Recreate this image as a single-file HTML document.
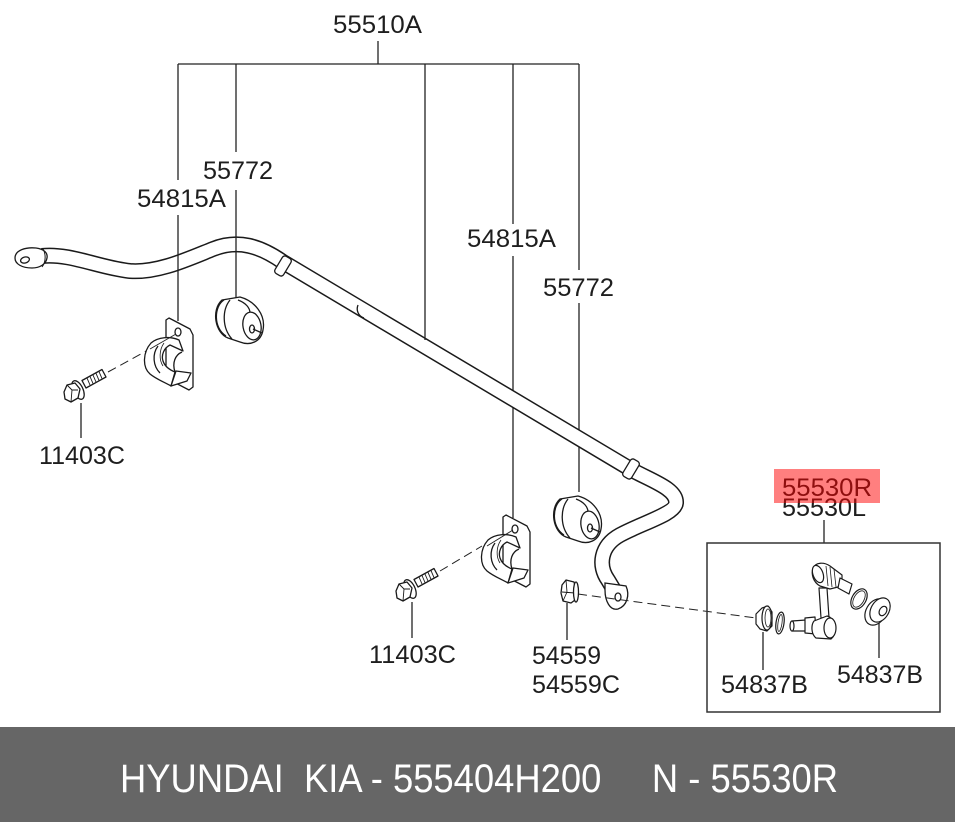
<!DOCTYPE html>
<html><head><meta charset="utf-8"><style>
html,body{margin:0;padding:0;background:#fff;}
svg{display:block;}
text{font-family:"Liberation Sans",Arial,sans-serif;}
</style></head><body>
<svg width="955" height="822" viewBox="0 0 955 822" xmlns="http://www.w3.org/2000/svg">
<defs>
  <g id="bracket" fill="#fff" stroke="#1a1a1a" stroke-width="1.3" stroke-linejoin="round">
    <path d="M166,320 L169,318 L190,329 L193,335 L193,387 L189,390 L166,378 Z"/>
    <ellipse cx="178" cy="332" rx="3" ry="4"/>
    <path d="M151,343 C143,352 142,367 150,374 C156,379 164,382 171,386 L175,372 C170,370 165,367 163,361 C161,355 164,348 170,345 L183,351 L179,340 C170,336 158,337 151,343 Z"/>
    <path d="M158,346 C152,354 153,366 160,373" fill="none"/>
    <path d="M164,343 C159,350 159,360 163,366" fill="none" stroke-width="0.8"/>
    <path d="M171,386 L187,381 L191,373 L176,371 Z"/>
    <path d="M175,372 C172,363 175,355 182,352" fill="none"/>
  </g>
  <g id="bushing" fill="#fff" stroke="#1a1a1a" stroke-width="1.3" stroke-linejoin="round">
    <path d="M222,300 L240,297 C255,301 266,315 263,330 C261,342 250,346 240,342 L228,338 C215,333 211,310 222,300 Z"/>
    <path d="M224,300 C214,306 213,328 226,336" fill="none"/>
    <path d="M230,300 C222,310 222,328 232,339" fill="none"/>
    <path d="M238,300 C246,303 250,308 250,313" fill="none"/>
    <ellipse cx="252" cy="326" rx="9" ry="14" transform="rotate(-10 252 326)"/>
    <ellipse cx="252" cy="329" rx="2.5" ry="4"/>
    <line x1="253" y1="329" x2="262" y2="333"/>
  </g>
  <g id="bolt" fill="#fff" stroke="#1a1a1a" stroke-width="1.3" stroke-linejoin="round">
    <path d="M82,380.5 L102,369.5 L106,377 L86,388 Z"/>
    <g stroke-width="0.9">
      <line x1="87" y1="378" x2="90" y2="385"/>
      <line x1="90" y1="376.5" x2="93" y2="383.5"/>
      <line x1="93" y1="375" x2="96" y2="382"/>
      <line x1="96" y1="373.3" x2="99" y2="380.3"/>
      <line x1="99" y1="371.6" x2="102" y2="378.6"/>
    </g>
    <ellipse cx="78" cy="390" rx="5" ry="10" transform="rotate(-25 78 390)"/>
    <path d="M64,392 L67,385 L75,383 L80,389 L78,398 L71,402 L65,399 Z"/>
    <path d="M67,385 L72,390 L78,390 M72,390 L71,402" fill="none" stroke-width="0.9"/>
  </g>
</defs>

<!-- leader lines hidden behind bar -->
<g stroke="#222" stroke-width="1.3" fill="none">
  <line x1="513" y1="256" x2="513" y2="518"/>
  <line x1="579" y1="303" x2="579" y2="492"/>
</g>

<!-- stabilizer bar -->
<path d="M42,256 C70,253 100,268 130,271 C158,273 188,259 213,249 C238,239 260,246 283,262 L632,470 C652,481 677,489 676,503 C675,514 642,523 620,535 C600,546 598,566 608,580 L614,590" fill="none" stroke="#1a1a1a" stroke-width="16"/>
<path d="M42,256 C70,253 100,268 130,271 C158,273 188,259 213,249 C238,239 260,246 283,262 L632,470 C652,481 677,489 676,503 C675,514 642,523 620,535 C600,546 598,566 608,580 L614,590" fill="none" stroke="#fff" stroke-width="13"/>
<!-- left eye -->
<g fill="#fff" stroke="#1a1a1a" stroke-width="1.3">
  <path d="M15,258 C15,250 26,247 36,248 C44,249 48,253 47,258 C46,264 40,268 32,268 C22,268 15,264 15,258 Z"/>
  <ellipse cx="25" cy="260" rx="4.5" ry="3" transform="rotate(-15 25 260)"/>
  <path d="M43,249 C46,254 46,262 42,267" fill="none" stroke-width="1"/>
</g>
<!-- collars -->
<g fill="#fff" stroke="#1a1a1a" stroke-width="1.3">
  <rect x="-5" y="-10" width="10" height="20" rx="3" transform="translate(283,266) rotate(31)"/>
  <rect x="-5" y="-10" width="10" height="20" rx="3" transform="translate(631,469) rotate(31)"/>
</g>
<path d="M358,305 C356,310 358,316 364,318" fill="none" stroke="#1a1a1a" stroke-width="1.3"/>
<!-- right end plate -->
<g fill="#fff" stroke="#1a1a1a" stroke-width="1.3">
  <path d="M605,583 L626,586 C630,595 627,606 618,609 C610,611 605,601 605,590 Z"/>
  <ellipse cx="618" cy="597" rx="3" ry="4"/>
</g>

<!-- leader lines on top -->
<g stroke="#222" stroke-width="1.3" fill="none">
  <line x1="378" y1="41" x2="378" y2="64"/>
  <line x1="178" y1="64" x2="579" y2="64"/>
  <line x1="178" y1="64" x2="178" y2="180"/>
  <line x1="178" y1="215" x2="178" y2="321"/>
  <line x1="236" y1="64" x2="236" y2="152"/>
  <line x1="236" y1="190" x2="236" y2="298"/>
  <line x1="425" y1="64" x2="425" y2="340"/>
  <line x1="513" y1="64" x2="513" y2="224"/>
  <line x1="579" y1="64" x2="579" y2="270"/>
  <line x1="81" y1="403" x2="81" y2="438"/>
  <line x1="412" y1="602" x2="412" y2="638"/>
  <line x1="567" y1="603" x2="567" y2="640"/>
  <line x1="763" y1="632" x2="763" y2="670"/>
  <line x1="879" y1="618" x2="879" y2="658"/>
  <line x1="824" y1="520" x2="824" y2="543"/>
</g>

<!-- dashed lines -->
<g stroke="#222" stroke-width="1" fill="none" stroke-dasharray="9 5">
  <line x1="108" y1="372" x2="150" y2="349"/>
  <line x1="440" y1="571" x2="482" y2="546"/>
  <line x1="578" y1="594" x2="756" y2="618"/>
</g>

<use href="#bracket"/>
<use href="#bracket" transform="translate(337,197)"/>
<use href="#bushing"/>
<use href="#bushing" transform="translate(338,199)"/>
<use href="#bolt"/>
<use href="#bolt" transform="translate(332,199)"/>
<g stroke="#222" stroke-width="0.9" fill="none">
  <line x1="150" y1="349" x2="176" y2="334"/>
  <line x1="487" y1="546" x2="513" y2="530"/>
</g>

<!-- nut -->
<g fill="#fff" stroke="#1a1a1a" stroke-width="1.3" stroke-linejoin="round">
  <path d="M562,585 L566,580 L574,582 L576,590 L575,600 L571,603 L563,601 L561,593 Z"/>
  <path d="M562,592 L575,593 M566,580 L567,592 L563,601" fill="none" stroke-width="0.9"/>
  <ellipse cx="576" cy="592" rx="2.5" ry="10"/>
</g>

<!-- box -->
<rect x="707" y="543" width="233" height="169" fill="none" stroke="#333" stroke-width="1.5"/>
<g fill="#fff" stroke="#1a1a1a" stroke-width="1.2" stroke-linejoin="round">
  <!-- left boot -->
  <path d="M756,614 L762,608 L768,606 L772,612 L772,626 L767,631 L760,629 L756,624 Z"/>
  <ellipse cx="767" cy="618" rx="5" ry="12"/>
  <ellipse cx="768" cy="618" rx="3" ry="9" stroke-width="0.8"/>
  <!-- ring -->
  <ellipse cx="780" cy="623" rx="4" ry="11" transform="rotate(8 780 623)"/>
  <ellipse cx="780" cy="623" rx="2" ry="8.5" transform="rotate(8 780 623)" stroke-width="0.8"/>
  <!-- lower stud -->
  <path d="M792,621 L806,620 L806,631 L792,631 Z"/>
  <ellipse cx="792" cy="626" rx="2" ry="5"/>
  <path d="M805,618 L815,617 L816,634 L805,633 Z"/>
  <!-- rod -->
  <path d="M819,588 L827,588 L829,618 L821,618 Z"/>
  <!-- lower housing -->
  <path d="M814,621 L827,616 C836,618 838,634 831,639 L816,638 C811,634 811,625 814,621 Z"/>
  <ellipse cx="830" cy="628" rx="6" ry="10"/>
  <!-- upper housing -->
  <path d="M813,568 C816,562 824,562 830,566 L842,575 L842,586 L830,589 L820,586 C813,582 811,574 813,568 Z"/>
  <ellipse cx="818" cy="574" rx="5" ry="9" transform="rotate(-20 818 574)"/>
  <path d="M826,566 L828,586 M830,567 L832,587 M834,569 L836,587" fill="none" stroke-width="0.8"/>
  <path d="M840,578 L852,584 L849,594 L838,588 Z"/>
  <!-- o-ring -->
  <ellipse cx="859" cy="599" rx="7" ry="11" transform="rotate(30 859 599)"/>
  <ellipse cx="859" cy="599" rx="5" ry="9" transform="rotate(30 859 599)" stroke-width="0.8"/>
  <!-- right boot -->
  <ellipse cx="876" cy="612" rx="10" ry="14" transform="rotate(30 876 612)"/>
  <ellipse cx="880" cy="610" rx="9" ry="13" transform="rotate(30 880 610)"/>
  <ellipse cx="883" cy="611" rx="3.5" ry="5" transform="rotate(30 883 611)"/>
</g>

<!-- labels -->
<g fill="#1e1e1e" font-size="25">
  <text x="333" y="33" textLength="89" lengthAdjust="spacingAndGlyphs">55510A</text>
  <text x="203" y="179" textLength="70" lengthAdjust="spacingAndGlyphs">55772</text>
  <text x="137" y="207" textLength="89" lengthAdjust="spacingAndGlyphs">54815A</text>
  <text x="467" y="247" textLength="89" lengthAdjust="spacingAndGlyphs">54815A</text>
  <text x="543" y="296" textLength="71" lengthAdjust="spacingAndGlyphs">55772</text>
  <text x="39" y="464" textLength="86" lengthAdjust="spacingAndGlyphs">11403C</text>
  <text x="369" y="663" textLength="87" lengthAdjust="spacingAndGlyphs">11403C</text>
  <text x="532" y="664" textLength="69" lengthAdjust="spacingAndGlyphs">54559</text>
  <text x="532" y="693" textLength="88" lengthAdjust="spacingAndGlyphs">54559C</text>
  <text x="782" y="496" textLength="90" lengthAdjust="spacingAndGlyphs">55530R</text>
  <text x="782" y="516" textLength="84" lengthAdjust="spacingAndGlyphs">55530L</text>
  <text x="721" y="693" textLength="87" lengthAdjust="spacingAndGlyphs">54837B</text>
  <text x="837" y="683" textLength="86" lengthAdjust="spacingAndGlyphs">54837B</text>
</g>
<rect x="774" y="469" width="106" height="34" fill="rgb(255,0,0)" fill-opacity="0.5"/>

<!-- banner -->
<rect x="0" y="727" width="955" height="95" fill="#666666"/>
<text x="120" y="792" font-size="40" fill="#ffffff" xml:space="preserve" style="white-space:pre" textLength="718" lengthAdjust="spacingAndGlyphs">HYUNDAI  KIA - 555404H200     N - 55530R</text>
</svg>
</body></html>
